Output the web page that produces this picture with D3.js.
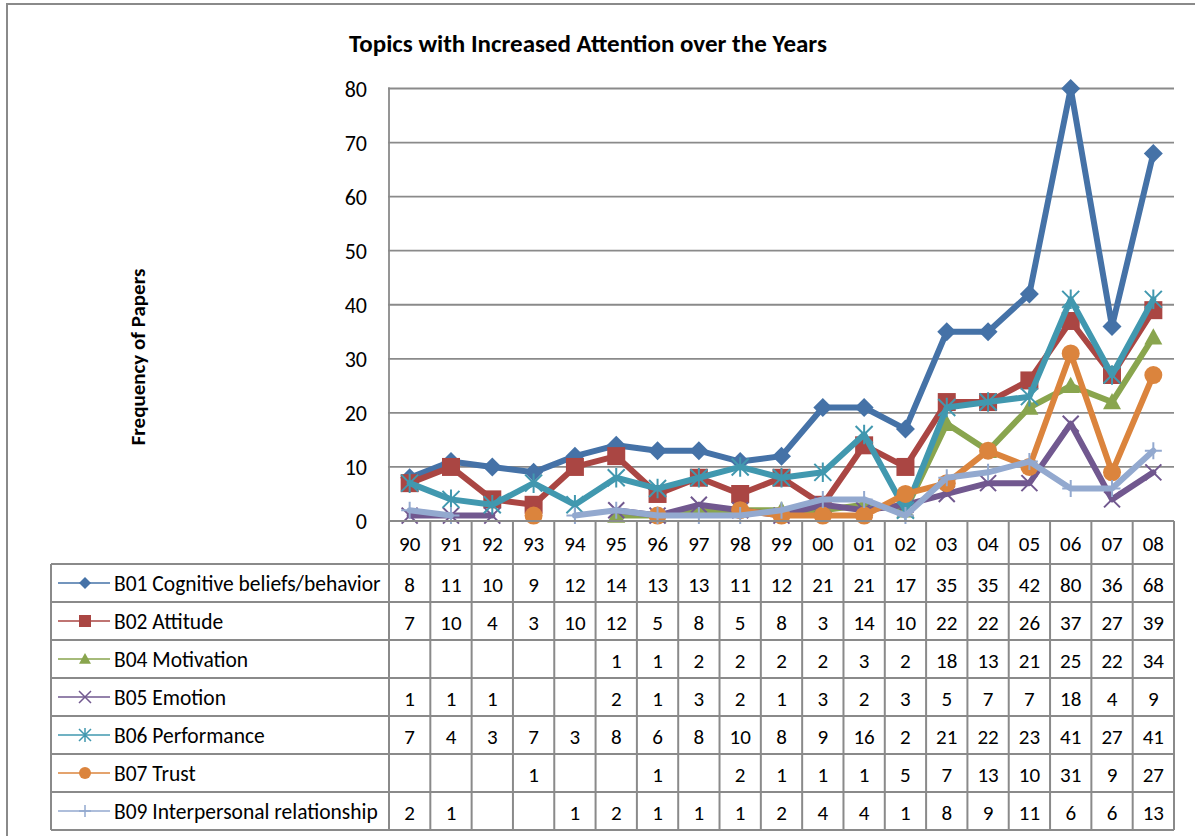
<!DOCTYPE html>
<html>
<head>
<meta charset="utf-8">
<script src="https://cdn.jsdelivr.net/npm/d3@7"></script>
<style>
  html, body { margin: 0; padding: 0; background: #fff; }
  svg { display: block; }
  text { font-family: Carlito, Lato, "Liberation Sans", sans-serif; fill: #000; }
</style>
</head>
<body>
<svg id="chart" width="1195" height="836"></svg>
<script>
// Years (two-digit labels) along the x axis
const years = ["90","91","92","93","94","95","96","97","98","99","00","01","02","03","04","05","06","07","08"];

// Series names as shown in the data table
const seriesNames = [
  "B01 Cognitive beliefs/behavior",
  "B02 Attitude",
  "B04 Motivation",
  "B05 Emotion",
  "B06 Performance",
  "B07 Trust",
  "B09 Interpersonal relationship"
];

// Frequencies per year (null = no papers recorded, left blank in table)
const b01 = [8, 11, 10, 9, 12, 14, 13, 13, 11, 12, 21, 21, 17, 35, 35, 42, 80, 36, 68];
const b02 = [7, 10, 4, 3, 10, 12, 5, 8, 5, 8, 3, 14, 10, 22, 22, 26, 37, 27, 39];
const b04 = [null, null, null, null, null, 1, 1, 2, 2, 2, 2, 3, 2, 18, 13, 21, 25, 22, 34];
const b05 = [1, 1, 1, null, null, 2, 1, 3, 2, 1, 3, 2, 3, 5, 7, 7, 18, 4, 9];
const b06 = [7, 4, 3, 7, 3, 8, 6, 8, 10, 8, 9, 16, 2, 21, 22, 23, 41, 27, 41];
const b07 = [null, null, null, 1, null, null, 1, null, 2, 1, 1, 1, 5, 7, 13, 10, 31, 9, 27];
const b09 = [2, 1, null, null, 1, 2, 1, 1, 1, 2, 4, 4, 1, 8, 9, 11, 6, 6, 13];

const yTicks = [0, 10, 20, 30, 40, 50, 60, 70, 80];

const seriesValues = [b01, b02, b04, b05, b06, b07, b09];
const colors = ["#4572A7", "#AA4643", "#89A54E", "#71588F", "#4198AF", "#DB843D", "#93A9CF"];
const markers = ["diamond", "square", "triangle", "x", "star", "circle", "plus"];

const series = seriesNames.map((name, i) => ({
  name, values: seriesValues[i], color: colors[i], marker: markers[i]
}));

const svg = d3.select("#chart");
const W = 1195, H = 836;
const FONT = "Carlito, Lato, 'Liberation Sans', sans-serif";

// Layout
const plotLeft = 389, plotRight = 1174, plotTop = 88.5, plotBottom = 521;
const headerBottom = 564, rowH = 38;
const tableLeft = 51;
const gridColor = "#8a8a8a";

// Outer chart frame (extends past the window on the right/bottom)
svg.append("rect")
  .attr("x", 7).attr("y", 4).attr("width", W + 20).attr("height", H + 20)
  .attr("fill", "#fff").attr("stroke", gridColor).attr("stroke-width", 2);

const x = d3.scaleBand().domain(years).range([plotLeft, plotRight]);
const y = d3.scaleLinear().domain([0, 80]).range([plotBottom, plotTop]);

// Horizontal gridlines
svg.append("g").selectAll("line").data(yTicks.filter(t => t > 0)).join("line")
  .attr("x1", plotLeft - 1).attr("x2", plotRight)
  .attr("y1", d => y(d)).attr("y2", d => y(d))
  .attr("stroke", gridColor).attr("stroke-width", 1.8);

// Y axis line
svg.append("line")
  .attr("x1", plotLeft).attr("x2", plotLeft)
  .attr("y1", plotTop - 1).attr("y2", plotBottom)
  .attr("stroke", gridColor).attr("stroke-width", 1.8);

// Y tick labels
const yAxis = d3.axisLeft(y).tickValues(yTicks).tickSize(0).tickPadding(22);
const yg = svg.append("g").attr("transform", `translate(${plotLeft},0)`).call(yAxis);
yg.select(".domain").remove();
yg.selectAll("text")
  .style("font-family", FONT)
  .style("font-size", "22px").attr("fill", "#000").attr("dy", "0.36em");

// Title
svg.append("text")
  .attr("x", 588).attr("y", 52)
  .attr("text-anchor", "middle")
  .style("font-size", "25px").style("font-weight", "bold")
  .text("Topics with Increased Attention over the Years");

// Y axis title
svg.append("text")
  .attr("transform", "translate(145,357) rotate(-90)")
  .attr("text-anchor", "middle")
  .style("font-size", "21px").style("font-weight", "bold")
  .text("Frequency of Papers");

// Marker path generator
function markerPath(type, s) {
  const h = s / 2;
  switch (type) {
    case "diamond": return `M0,${-h}L${h},0L0,${h}L${-h},0Z`;
    case "square": return `M${-h},${-h}H${h}V${h}H${-h}Z`;
    case "triangle": return `M0,${-h}L${h},${h * 0.8}L${-h},${h * 0.8}Z`;
    case "x": return `M${-h},${-h}L${h},${h}M${-h},${h}L${h},${-h}`;
    case "star": return `M${-h},${-h}L${h},${h}M${-h},${h}L${h},${-h}M0,${-h * 1.15}V${h * 1.15}`;
    case "plus": return `M0,${-h}V${h}M${-h},0H${h}`;
    default: return "";
  }
}
const strokeOnly = t => t === "x" || t === "star" || t === "plus";

function drawMarker(g, type, color, cx, cy, size) {
  if (type === "circle") {
    g.append("circle").attr("cx", cx).attr("cy", cy).attr("r", size / 2).attr("fill", color);
  } else if (strokeOnly(type)) {
    g.append("path").attr("transform", `translate(${cx},${cy})`)
      .attr("d", markerPath(type, size)).attr("fill", "none")
      .attr("stroke", color).attr("stroke-width", size > 12 ? 2 : 1.5);
  } else {
    g.append("path").attr("transform", `translate(${cx},${cy})`)
      .attr("d", markerPath(type, size)).attr("fill", color);
  }
}

const markerSize = { diamond: 19, square: 18, triangle: 18, x: 16, star: 17, circle: 18, plus: 17 };

// Lines and markers, series by series
const line = d3.line()
  .defined(d => d.v !== null)
  .x(d => x(d.year) + x.bandwidth() / 2)
  .y(d => y(d.v));

series.forEach(s => {
  const pts = s.values.map((v, i) => ({ year: years[i], v }));
  const g = svg.append("g");
  g.append("path").datum(pts)
    .attr("d", line)
    .attr("fill", "none").attr("stroke", s.color)
    .attr("stroke-width", 6).attr("stroke-linejoin", "round").attr("stroke-linecap", "round");
  pts.filter(p => p.v !== null).forEach(p => {
    drawMarker(g, s.marker, s.color, x(p.year) + x.bandwidth() / 2, y(p.v), markerSize[s.marker]);
  });
});

// Data table
const table = svg.append("g");
const rowsBottom = headerBottom + rowH * series.length;

// Year header row
table.selectAll("text.year").data(years).join("text")
  .attr("class", "year")
  .attr("x", d => x(d) + x.bandwidth() / 2)
  .attr("y", (plotBottom + headerBottom) / 2 + 1)
  .attr("dy", "0.36em").attr("text-anchor", "middle")
  .style("font-size", "21px")
  .text(d => d);

// Horizontal row lines
const hLines = d3.range(series.length + 1).map(i => headerBottom + i * rowH);
table.selectAll("line.h").data(hLines).join("line")
  .attr("x1", tableLeft).attr("x2", plotRight)
  .attr("y1", d => d).attr("y2", d => d)
  .attr("stroke", gridColor).attr("stroke-width", 2);
// Top of header row (zero line)
table.append("line")
  .attr("x1", plotLeft).attr("x2", plotRight)
  .attr("y1", plotBottom).attr("y2", plotBottom)
  .attr("stroke", gridColor).attr("stroke-width", 2);

// Vertical column lines
const vLines = years.map(d => x(d)).concat([plotRight]);
table.selectAll("line.v").data(vLines).join("line")
  .attr("x1", d => d).attr("x2", d => d)
  .attr("y1", plotBottom).attr("y2", rowsBottom)
  .attr("stroke", gridColor).attr("stroke-width", 2);
table.append("line")
  .attr("x1", tableLeft).attr("x2", tableLeft)
  .attr("y1", headerBottom).attr("y2", rowsBottom)
  .attr("stroke", gridColor).attr("stroke-width", 2);

// Rows: legend key, series name, values
series.forEach((s, r) => {
  const cy = headerBottom + rowH * r + rowH / 2;
  const row = table.append("g");
  row.append("line")
    .attr("x1", 58).attr("x2", 110).attr("y1", cy).attr("y2", cy)
    .attr("stroke", s.color).attr("stroke-width", 1.6);
  drawMarker(row, s.marker, s.color, 85, cy, 12);
  row.append("text")
    .attr("x", 114).attr("y", cy).attr("dy", "0.36em")
    .style("font-size", "21.5px")
    .text(s.name);
  row.selectAll("text.v").data(s.values.map((v, i) => ({ v, year: years[i] })))
    .join("text")
    .attr("class", "v")
    .attr("x", d => x(d.year) + x.bandwidth() / 2)
    .attr("y", cy + 1).attr("dy", "0.36em").attr("text-anchor", "middle")
    .style("font-size", "21px")
    .text(d => d.v === null ? "" : d.v);
});
</script>
</body>
</html>
